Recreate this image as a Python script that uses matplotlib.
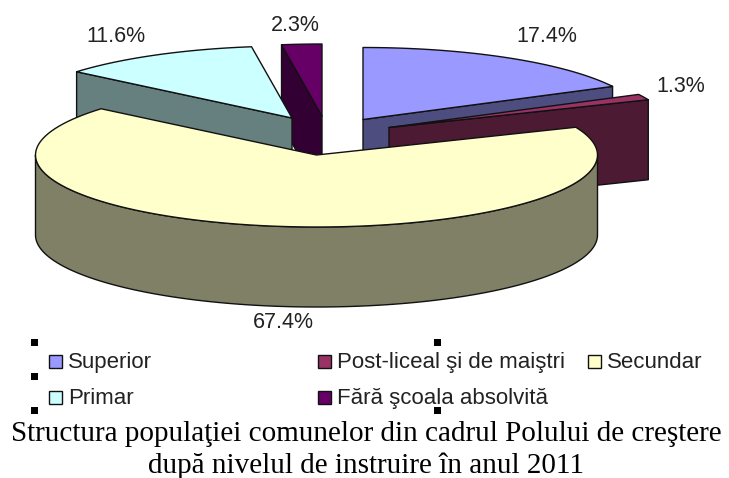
import matplotlib
matplotlib.use('Agg')
import matplotlib.pyplot as plt
from matplotlib.patches import Polygon, Rectangle
import numpy as np

#Data
categories = ['Superior', 'Post-liceal şi de maiştri', 'Secundar', 'Primar', 'Fără şcoala absolvită']
shares = [17.4, 1.3, 67.4, 11.6, 2.3]
title = 'Structura populaţiei comunelor din cadrul Polului de creştere\ndupă nivelul de instruire în anul 2011'

#Style
top_colors = ['#9999FF', '#993366', '#FFFFCC', '#CCFFFF', '#660066']
side_colors = ['#4D4D80', '#4D1A33', '#808066', '#668080', '#330033']
apex = [(363, 119.5), (389, 127.5), (316.5, 155), (292, 118), (322, 116)]
label_pos = [(547, 36), (681, 86), (283, 323), (116, 36), (295, 25)]
legend_pos = [(49, 361), (318, 361), (588, 361), (49, 397), (318, 397)]
grips = [(35, 342), (438, 342), (35, 376), (35, 410), (438, 410)]
rx, ry, depth = 281, 72, 80
draw_order = [4, 0, 1, 3, 2]

fig = plt.figure(figsize=(7.29, 4.78), dpi=100)
ax = fig.add_axes([0, 0, 1, 1])
ax.set_xlim(0, 729)
ax.set_ylim(478, 0)
ax.axis('off')


def rim(center, a0, a1):
    # angles clockwise from 12 o'clock, degrees
    t = np.radians(np.linspace(a0, a1, 120))
    return np.column_stack([center[0] + rx * np.sin(t), center[1] - ry * np.cos(t)])


def shape(pts, color):
    ax.add_patch(Polygon(pts, closed=True, facecolor=color, edgecolor='#111111', lw=1.0, joinstyle='round'))


edges = np.cumsum([0] + shares) / sum(shares) * 360
for i in draw_order:
    c = np.array(apex[i])
    a0, a1 = edges[i], edges[i + 1]
    down = np.array([0, depth])
    arc = rim(c, a0, a1)
    # cut faces, only the ones that look toward the viewer
    if a1 < 180:
        shape([c, arc[-1], arc[-1] + down, c + down], side_colors[i])
    if a0 > 180:
        shape([c, arc[0], arc[0] + down, c + down], side_colors[i])
    # outer wall on the front half of the rim
    lo, hi = max(a0, 90), min(a1, 270)
    if lo < hi:
        front = rim(c, lo, hi)
        shape(np.vstack([front, front[::-1] + down]), side_colors[i])
    shape(np.vstack([c, arc]), top_colors[i])

for share, (x, y) in zip(shares, label_pos):
    ax.text(x, y, f'{share}%', ha='center', va='center', fontsize=15.5,
            family='Liberation Sans', color='#222222')

for name, color, (x, y) in zip(categories, top_colors, legend_pos):
    ax.add_patch(Rectangle((x, y - 6.5), 13, 13, facecolor=color, edgecolor='#111111', lw=1))
    ax.text(x + 19, y + 7, name, ha='left', va='baseline', fontsize=16,
            family='Liberation Sans', color='#222222')

for x, y in grips:
    ax.add_patch(Rectangle((x - 3.5, y - 3.5), 7, 7, facecolor='black', edgecolor='none'))

ax.text(366, 450, title, ha='center', va='center', fontsize=21, family='Liberation Serif',
        color='black', linespacing=1.3)

fig.savefig('out.png', dpi=100)
